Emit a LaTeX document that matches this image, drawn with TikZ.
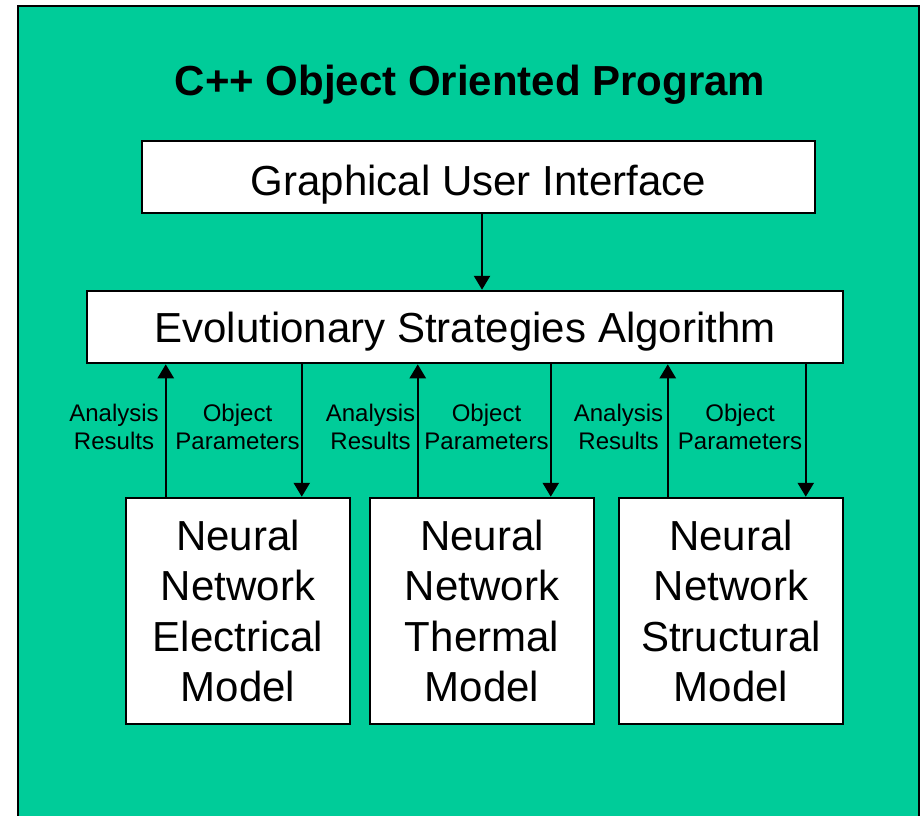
\documentclass[tikz,border=0pt]{standalone}
\usepackage{fontspec}
\setmainfont{Liberation Sans}
\usetikzlibrary{arrows.meta}
\definecolor{panelgreen}{RGB}{0,204,153}
\begin{document}
\begin{tikzpicture}[x=1pt,y=-1pt,
  box/.style={draw=black,line width=2.5pt,fill=white,inner sep=0pt,align=center,
    font=\fontsize{42}{50.6}\selectfont},
  lbl/.style={align=center,inner sep=0pt,font=\fontsize{24}{28.5}\selectfont},
  arr/.style={line width=2.5pt,-{Triangle[width=16pt,length=14pt]}}]
\useasboundingbox (0,0) rectangle (920,815);
\begin{scope}
\clip (0,0) rectangle (920,815);
\draw[line width=2pt,fill=panelgreen] (18,6) rectangle (919,840);
\end{scope}

% title
\node[font=\fontsize{42}{50}\selectfont\bfseries] (title) at (470,85) {C++ Object Oriented Program};

% main blocks
\node[box,minimum width=673pt,minimum height=72pt,text height=36pt,text depth=0pt] (gui) at (478.5,177) {Graphical User Interface};
\node[box,minimum width=756pt,minimum height=72pt,text height=30pt,text depth=0pt] (esa) at (465,327) {Evolutionary Strategies Algorithm};

\node[box,minimum width=224pt,minimum height=226pt] (m1) at (238,611) {Neural\\Network\\Electrical\\Model};
\node[box,minimum width=224pt,minimum height=226pt] (m2) at (482,611) {Neural\\Network\\Thermal\\Model};
\node[box,minimum width=224pt,minimum height=226pt] (m3) at (731,611) {Neural\\Network\\Structural\\Model};

% GUI to algorithm
\draw[arr] ([xshift=3.5pt]gui.south) -- ([xshift=3.5pt]gui.south |- esa.north);

% model results up, parameters down
\draw[arr] ([xshift=41pt]m1.north west) -- ([xshift=41pt]m1.north west |- esa.south);
\draw[arr] ([xshift=177pt]m1.north west |- esa.south) -- ([xshift=177pt]m1.north west);
\draw[arr] ([xshift=49pt]m2.north west) -- ([xshift=49pt]m2.north west |- esa.south);
\draw[arr] ([xshift=182pt]m2.north west |- esa.south) -- ([xshift=182pt]m2.north west);
\draw[arr] ([xshift=50pt]m3.north west) -- ([xshift=50pt]m3.north west |- esa.south);
\draw[arr] ([xshift=188pt]m3.north west |- esa.south) -- ([xshift=188pt]m3.north west);

% connector labels
\node[lbl] (a1) at (114,427) {Analysis\\Results};
\node[lbl] (o1) at (237.5,427) {Object\\Parameters};
\node[lbl] (a2) at (370.5,427) {Analysis\\Results};
\node[lbl] (o2) at (486.5,427) {Object\\Parameters};
\node[lbl] (a3) at (618.5,427) {Analysis\\Results};
\node[lbl] (o3) at (740,427) {Object\\Parameters};
\end{tikzpicture}
\end{document}
